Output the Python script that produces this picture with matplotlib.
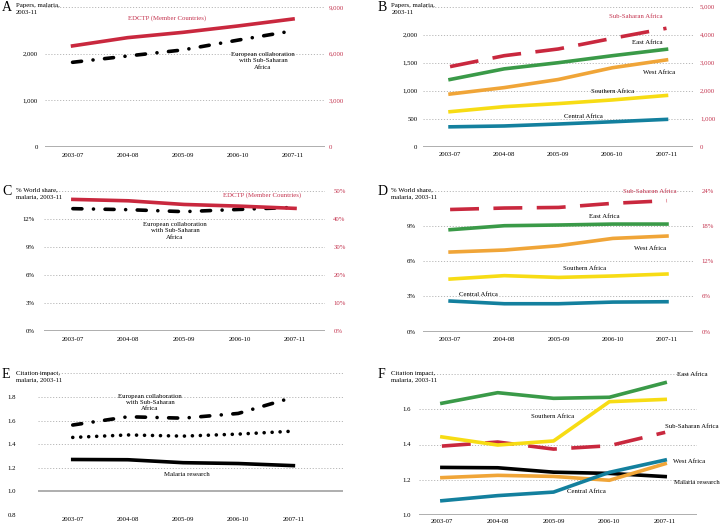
import matplotlib
matplotlib.use('Agg')
import matplotlib.pyplot as plt

plt.rcParams['font.family'] = ['Liberation Serif', 'DejaVu Serif']

# ---------------- data ----------------
periods = ['2003-07', '2004-08', '2005-09', '2006-10', '2007-11']

# A: papers (EDCTP on right axis)
papers_edctp = [6500, 7030, 7370, 7780, 8230]
papers_euro_ssa = [1815, 1950, 2080, 2290, 2490]

# B: papers (Sub-Saharan Africa on right axis)
papers_ssa = [2860, 3250, 3490, 3870, 4230]
papers_east = [1200, 1390, 1500, 1625, 1740]
papers_west = [940, 1055, 1200, 1410, 1550]
papers_south = [625, 715, 770, 835, 915]
papers_central = [355, 370, 405, 445, 488]

# C: % world share (EDCTP on right axis)
share_edctp = [46.9, 46.4, 45.1, 44.5, 43.7]
share_euro_ssa = [13.08, 12.97, 12.76, 13.0, 13.22]

# D: % world share (Sub-Saharan Africa on right axis)
share_ssa = [20.8, 21.05, 21.15, 21.85, 22.3]
share_east = [8.68, 9.02, 9.08, 9.16, 9.16]
share_west = [6.78, 6.95, 7.32, 7.94, 8.14]
share_south = [4.48, 4.77, 4.62, 4.74, 4.91]
share_central = [2.61, 2.38, 2.38, 2.52, 2.55]

# E: citation impact
cit_euro_ssa = [1.562, 1.632, 1.620, 1.660, 1.797]
cit_edctp = [1.457, 1.478, 1.468, 1.485, 1.510]
cit_malaria = [1.270, 1.268, 1.243, 1.236, 1.218]

# F: citation impact
cit_east = [1.634, 1.694, 1.662, 1.668, 1.751]
cit_south = [1.443, 1.397, 1.420, 1.643, 1.656]
cit_ssa = [1.391, 1.414, 1.374, 1.393, 1.469]
cit_west = [1.212, 1.225, 1.219, 1.197, 1.291]
cit_central = [1.081, 1.110, 1.130, 1.242, 1.312]

# ---------------- style ----------------
RED = '#c9283e'
RED_TXT = '#c4344f'
GREEN = '#3a9a48'
ORANGE = '#f0a538'
YELLOW = '#f7dc14'
BLUE = '#13809e'
BLACK = '#000000'
GRID = '#b8b8b8'
AXIS = '#a8a8a8'
FS = 4.9
LW = 2.6
DASH = (0, (8, 4))
DASHDOT = (0, (2.5, 3.2, 0.01, 3.2))
DOTS = (0, (0.01, 2.2))

W, H = 720, 527
fig = plt.figure(figsize=(7.2, 5.27), dpi=100)


def rect(x0, x1, yt, yb):
    return [x0 / W, 1 - yb / H, (x1 - x0) / W, (yb - yt) / H]


def ftext(px, py, s, **kw):
    kw.setdefault('fontsize', FS)
    kw.setdefault('ha', 'center')
    kw.setdefault('va', 'center')
    fig.text(px / W, 1 - py / H, s, **kw)


def setup(ax, xlim, ylim, ticks, labels, base, lpad=3, bpad=4):
    ax.set_xlim(*xlim)
    ax.set_ylim(*ylim)
    for s in ax.spines.values():
        s.set_visible(False)
    for t in ticks:
        if t != base:
            ax.axhline(t, color=GRID, lw=0.7, ls=(0, (1.2, 1.8)), zorder=0)
    ax.axhline(base, color=AXIS, lw=1.3, zorder=1)
    ax.set_yticks(ticks)
    ax.set_yticklabels(labels)
    ax.set_xticks(range(len(periods)))
    ax.set_xticklabels(periods)
    ax.tick_params(axis='both', length=0, labelsize=FS)
    ax.tick_params(axis='y', pad=lpad)
    ax.tick_params(axis='x', pad=bpad)


def right_axis(ax, ylim, ticks, labels, pad=3):
    ax2 = ax.twinx()
    ax2.set_ylim(*ylim)
    for s in ax2.spines.values():
        s.set_visible(False)
    ax2.set_yticks(ticks)
    ax2.set_yticklabels(labels)
    ax2.tick_params(axis='y', length=0, labelsize=FS, colors=RED_TXT, pad=pad)
    return ax2


def header(px, py, letter, title):
    ftext(px, py + 3.8, letter, fontsize=10, ha='left', va='baseline')
    ftext(px + 13.5, py - 3.5, title, ha='left', va='top', linespacing=1.45)


x = list(range(len(periods)))
comma = lambda v: f'{v:,.0f}'
pct = lambda v: f'{v:.0f}%'
MULTI = 1.3

# ---------------- A ----------------
axA = fig.add_axes(rect(45, 325, 7, 147))
tA = [0, 1000, 2000, 3000]
setup(axA, (-0.5, 4.58), (0, 3000), tA, [comma(t) for t in tA[:-1]] + [''], 0, lpad=5, bpad=4)
axA2 = right_axis(axA, (0, 9000), [0, 3000, 6000, 9000], [comma(t) for t in [0, 3000, 6000, 9000]], pad=3)
axA.plot(x, papers_euro_ssa, color=BLACK, lw=LW, ls=DASHDOT, dash_capstyle='round', zorder=3)
axA2.plot(x, papers_edctp, color=RED, lw=LW, zorder=3)
header(2, 7, 'A', 'Papers, malaria,\n2003-11')
ftext(167, 17.7, 'EDCTP (Member Countries)', color=RED_TXT)
ftext(263, 61, 'European collaboration\nwith Sub-Saharan\nAfrica', linespacing=MULTI)

# ---------------- B ----------------
axB = fig.add_axes(rect(423, 693, 6.7, 146.7))
tB = [0, 500, 1000, 1500, 2000, 2500]
setup(axB, (-0.5, 4.49), (0, 2500), tB, [comma(t) for t in tB[:-1]] + [''], 0, lpad=4, bpad=4)
tB2 = [0, 1000, 2000, 3000, 4000, 5000]
axB2 = right_axis(axB, (0, 5000), tB2, [comma(t) for t in tB2], pad=5)
axB.plot(x, papers_central, color=BLUE, lw=LW, zorder=3)
axB.plot(x, papers_south, color=YELLOW, lw=LW, zorder=3)
axB.plot(x, papers_west, color=ORANGE, lw=LW, zorder=3)
axB.plot(x, papers_east, color=GREEN, lw=LW, zorder=3)
axB2.plot(x, papers_ssa, color=RED, lw=LW, ls=DASH, zorder=3)
header(378, 7, 'B', 'Papers, malaria,\n2003-11')
ftext(636, 16, 'Sub-Saharan Africa', color=RED_TXT)
ftext(647, 42.7, 'East Africa')
ftext(659, 72, 'West Africa')
ftext(613, 91.7, 'Southern Africa')
ftext(583, 116.7, 'Central Africa')

# ---------------- C ----------------
axC = fig.add_axes(rect(44, 325, 190.7, 331))
tC = [0, 3, 6, 9, 12, 15]
setup(axC, (-0.52, 4.54), (0, 15), tC, [pct(t) for t in tC[:-1]] + [''], 0, lpad=7, bpad=4)
tC2 = [0, 10, 20, 30, 40, 50]
axC2 = right_axis(axC, (0, 50), tC2, [pct(t) for t in tC2], pad=6)
axC.plot(x, share_euro_ssa, color=BLACK, lw=LW, ls=DASHDOT, dash_capstyle='round', zorder=3)
axC2.plot(x, share_edctp, color=RED, lw=LW, zorder=3)
header(2, 191, 'C', '% World share,\nmalaria, 2003-11')
ftext(261.7, 195, 'EDCTP (Member Countries)', color=RED_TXT)
ftext(175, 231, 'European collaboration\nwith Sub-Saharan\nAfrica', linespacing=MULTI)

# ---------------- D ----------------
axD = fig.add_axes(rect(423, 693, 190.7, 331.7))
tD = [0, 3, 6, 9, 12]
setup(axD, (-0.5, 4.48), (0, 12), tD, [pct(t) for t in tD[:-1]] + [''], 0, lpad=5, bpad=4)
tD2 = [0, 6, 12, 18, 24]
axD2 = right_axis(axD, (0, 24), tD2, [pct(t) for t in tD2], pad=6)
axD.plot(x, share_central, color=BLUE, lw=LW, zorder=3)
axD.plot(x, share_south, color=YELLOW, lw=LW, zorder=3)
axD.plot(x, share_west, color=ORANGE, lw=LW, zorder=3)
axD.plot(x, share_east, color=GREEN, lw=LW, zorder=3)
axD2.plot(x, share_ssa, color=RED, lw=LW, ls=DASH, zorder=3)
header(378, 191, 'D', '% World share,\nmalaria, 2003-11')
ftext(650, 191.7, 'Sub-Saharan Africa', color=RED_TXT)
ftext(604, 216, 'East Africa')
ftext(650, 248.7, 'West Africa')
ftext(585, 269, 'Southern Africa')
ftext(478, 294, 'Central Africa')

# ---------------- E ----------------
axE = fig.add_axes(rect(38, 343, 373.3, 515))
tE = [0.8, 1.0, 1.2, 1.4, 1.6, 1.8, 2.0]
setup(axE, (-0.63, 4.9), (0.8, 2.0), tE, [f'{t:.1f}' for t in tE[:-1]] + [''], 1.0, lpad=16, bpad=1.5)
axE.axhline(0.8, color=GRID, lw=0.7, ls=(0, (1.2, 1.8)), zorder=0)
axE.plot(x, cit_malaria, color=BLACK, lw=LW, zorder=3)
axE.plot(x, cit_edctp, color=BLACK, lw=LW, ls=DOTS, dash_capstyle='round', zorder=3)
axE.plot(x, cit_euro_ssa, color=BLACK, lw=LW, ls=DASHDOT, dash_capstyle='round', zorder=3)
header(2, 374, 'E', 'Citation impact,\nmalaria, 2003-11')
ftext(150, 402.7, 'European collaboration\nwith Sub-Saharan\nAfrica', linespacing=MULTI)
ftext(187, 474, 'Malaria research')

# ---------------- F ----------------
axF = fig.add_axes(rect(419, 697, 374, 515))
tF = [1.0, 1.2, 1.4, 1.6, 1.8]
setup(axF, (-0.41, 4.57), (1.0, 1.8), tF, [f'{t:.1f}' for t in tF[:-1]] + [''], 1.0, lpad=6, bpad=3)
axF.plot(x, cit_malaria, color=BLACK, lw=LW, zorder=3)
axF.plot(x, cit_west, color=ORANGE, lw=LW, zorder=3)
axF.plot(x, cit_central, color=BLUE, lw=LW, zorder=3)
axF.plot(x, cit_ssa, color=RED, lw=LW, ls=DASH, zorder=3)
axF.plot(x, cit_south, color=YELLOW, lw=LW, zorder=3)
axF.plot(x, cit_east, color=GREEN, lw=LW, zorder=3)
header(378, 374, 'F', 'Citation impact,\nmalaria, 2003-11')
ftext(692, 374, 'East Africa')
ftext(553, 416.7, 'Southern Africa')
ftext(692, 426.7, 'Sub-Saharan Africa')
ftext(689, 461.7, 'West Africa')
ftext(697, 483, 'Malaria research')
ftext(586, 491.7, 'Central Africa')

fig.savefig('out.png', dpi=100)
